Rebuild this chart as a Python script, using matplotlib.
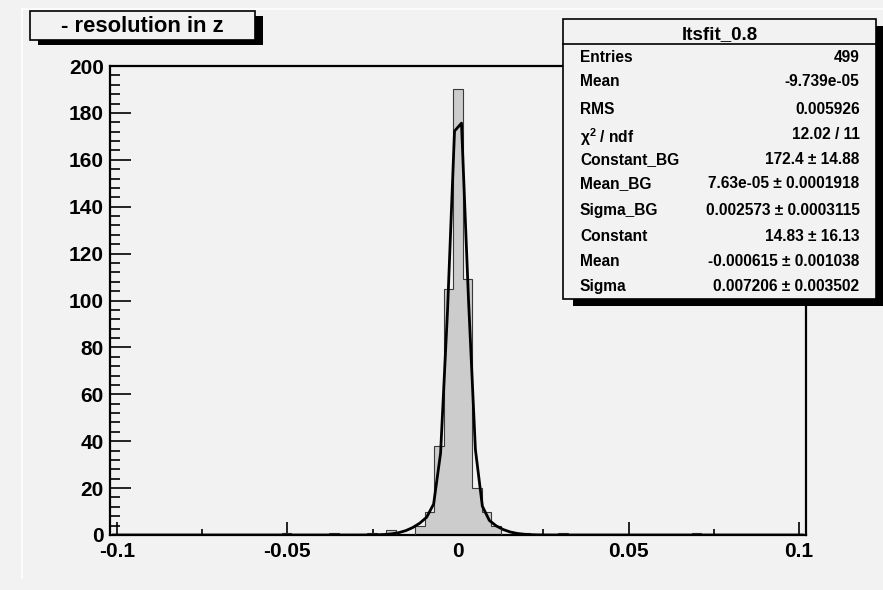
import numpy as np
import matplotlib
matplotlib.use('Agg')
import matplotlib.pyplot as plt
from matplotlib.patches import Rectangle
from matplotlib.lines import Line2D

plt.rcParams['font.family'] = ['Liberation Sans', 'DejaVu Sans']
plt.rcParams['font.weight'] = 'bold'
plt.rcParams['mathtext.default'] = 'regular'

# histogram: 73 bins over [-0.102, 0.102], only non-empty bins listed
n_bins = 73
x_lo, x_hi = -0.102, 0.102
bin_index = [18, 23, 27, 29, 32, 33, 34, 35, 36, 37, 38, 39, 40, 43, 47, 61]
bin_count = [1, 1, 1, 2, 4, 10, 38, 105, 190, 109, 20, 10, 4, 1, 1, 1]

# fit parameters (double gaussian) as shown in the stats box
const_bg, mean_bg, sigma_bg = 172.4, 7.63e-05, 0.002573
const_2, mean_2, sigma_2 = 14.83, -0.000615, 0.007206
fit_npx = 100

x_ticks = [-0.1, -0.05, 0, 0.05, 0.1]
x_tick_labels = ['-0.1', '-0.05', '0', '0.05', '0.1']
y_ticks = [0, 20, 40, 60, 80, 100, 120, 140, 160, 180, 200]

stat_title = 'ltsfit_0.8'
stat_names = ['Entries', 'Mean', 'RMS', r'$\chi^{2}$ / ndf', 'Constant_BG', 'Mean_BG',
              'Sigma_BG', 'Constant', 'Mean', 'Sigma']
stat_values = ['499', '-9.739e-05', '0.005926', '12.02 / 11', '172.4 \u00b1 14.88',
               '7.63e-05 \u00b1 0.0001918', '0.002573 \u00b1 0.0003115', '14.83 \u00b1 16.13',
               '-0.000615 \u00b1 0.001038', '0.007206 \u00b1 0.003502']
stat_name_base = [61.7, 86, 114, 142.7, 164, 188.3, 215, 240.7, 266, 290.7]
stat_value_base = [61.7, 86, 114, 139.3, 164, 188.3, 215, 240.7, 266, 290.7]

bg = '#f2f2f2'
W, H = 883, 590

fig = plt.figure(figsize=(W / 100, H / 100), dpi=100, facecolor=bg)


def fx(px):
    return px / W


def fy(py):
    return 1 - py / H


ax = fig.add_axes([fx(110), fy(535), fx(806) - fx(110), fy(66) - fy(535)], facecolor=bg)

edges = np.linspace(x_lo, x_hi, n_bins + 1)
counts = np.zeros(n_bins)
counts[bin_index] = bin_count
ax.stairs(counts, edges, fill=True, facecolor='#cccccc', edgecolor='none', zorder=2)
ax.stairs(counts, edges, color='#3a3a3a', lw=0.8, zorder=3)

step = (x_hi - x_lo) / fit_npx
xs = x_lo + step * (np.arange(fit_npx) + 0.5)
ys = (const_bg * np.exp(-0.5 * ((xs - mean_bg) / sigma_bg) ** 2)
      + const_2 * np.exp(-0.5 * ((xs - mean_2) / sigma_2) ** 2))
ax.plot(xs, ys, color='black', lw=2.0, zorder=4)

ax.set_xlim(x_lo, x_hi)
ax.set_ylim(0, 200)
ax.set_xticks(x_ticks, labels=x_tick_labels)
ax.set_xticks(np.arange(-0.1, 0.1001, 0.025), minor=True)
ax.set_yticks(y_ticks)
ax.set_yticks(np.arange(0, 201, 4), minor=True)
ax.tick_params(axis='x', which='major', direction='in', length=9.4, width=1.2, labelsize=15, pad=5)
ax.tick_params(axis='x', which='minor', direction='in', length=4.3, width=1.2)
ax.tick_params(axis='y', which='major', direction='in', length=15, width=1.2, labelsize=15, pad=4.5)
ax.tick_params(axis='y', which='minor', direction='in', length=7.2, width=1.2)
for lab in ax.get_xticklabels() + ax.get_yticklabels():
    lab.set_fontweight('bold')
for sp in ax.spines.values():
    sp.set_linewidth(1.6)
    sp.set_color('black')

# pad highlight lines
fig.add_artist(Line2D([fx(22), fx(883)], [fy(9), fy(9)], color='white', lw=1.2))
fig.add_artist(Line2D([fx(22), fx(22)], [fy(9), fy(578)], color='white', lw=1.2))


def pave(x0, y0, x1, y1, sh):
    # black shadow offset to the lower right, then the box itself
    fig.add_artist(Rectangle((fx(x0 + sh + 3), fy(y1 + sh)), fx(x1 - x0), fy(y0) - fy(y1),
                             transform=fig.transFigure, facecolor='black', edgecolor='none', zorder=10))
    fig.add_artist(Rectangle((fx(x0), fy(y1)), fx(x1 - x0), fy(y0) - fy(y1),
                             transform=fig.transFigure, facecolor=bg, edgecolor='black', lw=1.2, zorder=11))


# title box
pave(30, 10.7, 255, 40, 5)
fig.text(fx(142.5), fy(31.7), '- resolution in z', ha='center', va='baseline', fontsize=15.8,
         fontweight='bold', zorder=12)

# stats box
pave(563, 19, 876, 299, 7)
fig.add_artist(Line2D([fx(563), fx(876)], [fy(44.3), fy(44.3)], color='black', lw=1.2, zorder=12))
fig.text(fx(719.5), fy(39.3), stat_title, ha='center', va='baseline', fontsize=13.5,
         fontweight='bold', zorder=12)
for name, val, yb, yv in zip(stat_names, stat_values, stat_name_base, stat_value_base):
    fig.text(fx(580), fy(yb), name, ha='left', va='baseline', fontsize=11.2, fontweight='bold', zorder=12)
    fig.text(fx(859.5), fy(yv), val, ha='right', va='baseline', fontsize=11.2, fontweight='bold', zorder=12)

fig.savefig('out.png', dpi=100, facecolor=bg)
